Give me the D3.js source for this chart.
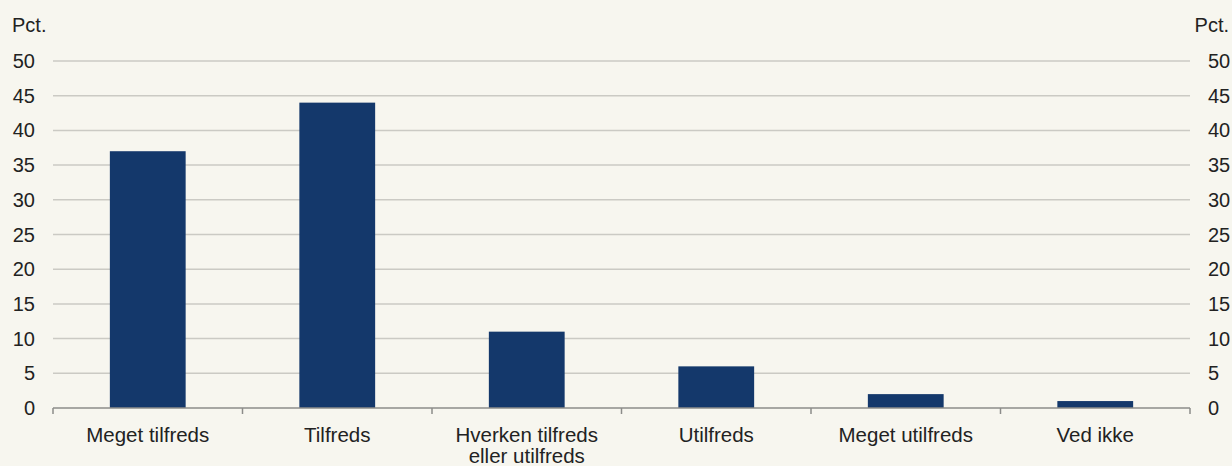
<!DOCTYPE html>
<html>
<head>
<meta charset="utf-8">
<script src="https://cdn.jsdelivr.net/npm/d3@7"></script>
<style>
  html, body { margin: 0; padding: 0; background: #f7f6ef; }
  svg { display: block; font-family: "Liberation Sans", Arial, sans-serif; }
</style>
</head>
<body>
<svg width="1232" height="466"></svg>
<script>
// data (pct.)
const categories = ["Meget tilfreds", "Tilfreds", "Hverken tilfreds|eller utilfreds", "Utilfreds", "Meget utilfreds", "Ved ikke"];
const values = [37, 44, 11, 6, 2, 1];
const yTicks = [0, 5, 10, 15, 20, 25, 30, 35, 40, 45, 50];
const unitLabel = "Pct.";

const svg = d3.select("svg");
const margin = {top: 61, right: 42, bottom: 58, left: 53};
const width = +svg.attr("width") - margin.left - margin.right;
const height = +svg.attr("height") - margin.top - margin.bottom;

const x = d3.scaleBand().domain(categories).range([0, width]).paddingInner(0.6).paddingOuter(0.3);
const y = d3.scaleLinear().domain([0, 50]).range([height, 0]);

const g = svg.append("g").attr("transform", `translate(${margin.left},${margin.top})`);

// gridlines
g.selectAll(".grid")
  .data(yTicks.filter(d => d > 0))
  .enter().append("line")
    .attr("x1", 0).attr("x2", width)
    .attr("y1", d => y(d)).attr("y2", d => y(d))
    .attr("stroke", "#cbcac4")
    .attr("stroke-width", 1.5);

// bars
g.selectAll(".bar")
  .data(values)
  .enter().append("rect")
    .attr("x", (d, i) => x(categories[i]))
    .attr("y", d => y(d))
    .attr("width", x.bandwidth())
    .attr("height", d => height - y(d))
    .attr("fill", "#14386b");

// bottom axis line with separators between categories
const step = x.step();
const sepData = d3.range(categories.length + 1);
g.append("line")
  .attr("x1", 0).attr("x2", width)
  .attr("y1", height).attr("y2", height)
  .attr("stroke", "#8c8c8a").attr("stroke-width", 1.5);
g.selectAll(".sep")
  .data(sepData)
  .enter().append("line")
    .attr("x1", i => x(categories[0]) - x.paddingOuter() * step + i * step)
    .attr("x2", i => x(categories[0]) - x.paddingOuter() * step + i * step)
    .attr("y1", height).attr("y2", height + 6)
    .attr("stroke", "#8c8c8a").attr("stroke-width", 1.5);

// category labels
const labels = g.selectAll(".xlabel")
  .data(categories)
  .enter().append("text")
    .attr("x", d => x(d) + x.bandwidth() / 2)
    .attr("y", height + 34)
    .attr("text-anchor", "middle")
    .style("font-size", "20.5px")
    .style("fill", "#222");
labels.each(function(d) {
  const parts = d.split("|");
  d3.select(this).selectAll("tspan")
    .data(parts)
    .enter().append("tspan")
      .attr("x", x(d) + x.bandwidth() / 2)
      .attr("dy", (p, i) => i === 0 ? 0 : 21)
      .text(p => p);
});

// y tick labels, left and right
g.selectAll(".yl")
  .data(yTicks)
  .enter().append("text")
    .attr("x", -18)
    .attr("y", d => y(d))
    .attr("dy", "0.35em")
    .attr("text-anchor", "end")
    .style("font-size", "20px")
    .style("fill", "#222")
    .text(d => d);
g.selectAll(".yr")
  .data(yTicks)
  .enter().append("text")
    .attr("x", width + 18)
    .attr("y", d => y(d))
    .attr("dy", "0.35em")
    .attr("text-anchor", "start")
    .style("font-size", "20px")
    .style("fill", "#222")
    .text(d => d);

// unit labels
svg.append("text")
  .attr("x", 12).attr("y", 32)
  .style("font-size", "20px").style("fill", "#222")
  .text(unitLabel);
svg.append("text")
  .attr("x", 1229).attr("y", 32)
  .attr("text-anchor", "end")
  .style("font-size", "20px").style("fill", "#222")
  .text(unitLabel);
</script>
</body>
</html>
